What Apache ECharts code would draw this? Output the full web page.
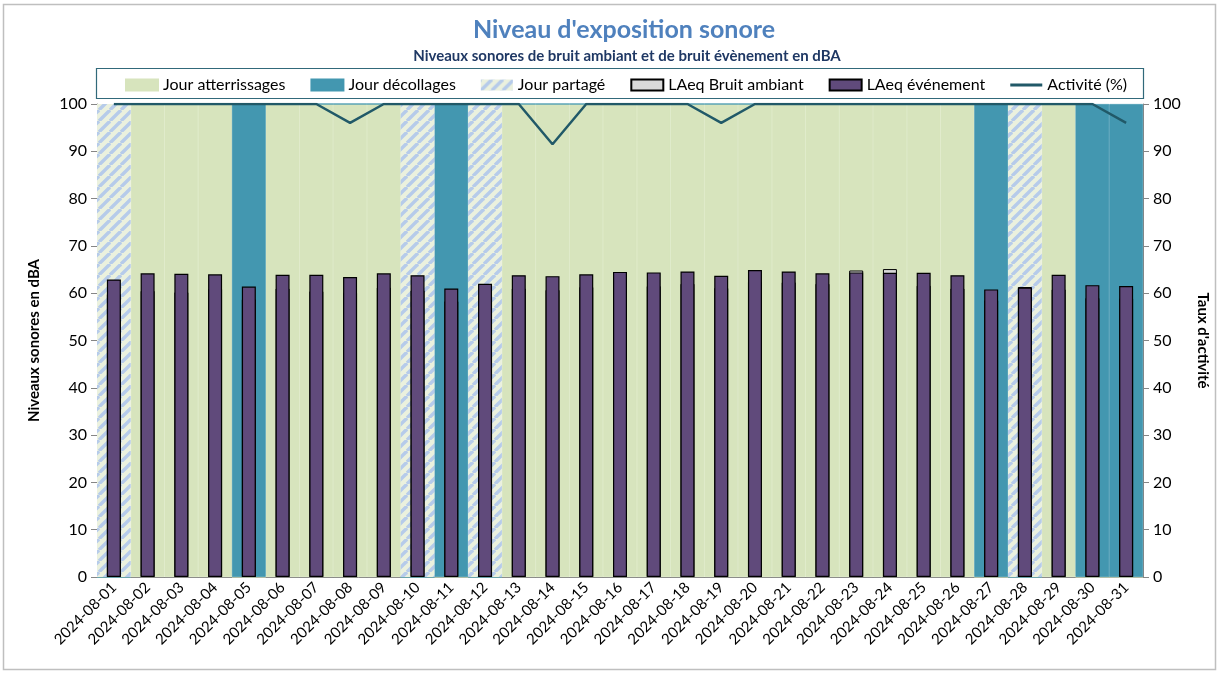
<!DOCTYPE html>
<html>
<head>
<meta charset="utf-8">
<title>Niveau d'exposition sonore</title>
<script src="https://cdn.jsdelivr.net/npm/echarts@6/dist/echarts.min.js"></script>
<style>
  html, body { margin: 0; padding: 0; background: #fff; }
  #chart { width: 1220px; height: 673px; }
</style>
</head>
<body>
<div id="chart"></div>
<script>
// jours du mois
const dates = [
  '2024-08-01', '2024-08-02', '2024-08-03', '2024-08-04', '2024-08-05', '2024-08-06',
  '2024-08-07', '2024-08-08', '2024-08-09', '2024-08-10', '2024-08-11', '2024-08-12',
  '2024-08-13', '2024-08-14', '2024-08-15', '2024-08-16', '2024-08-17', '2024-08-18',
  '2024-08-19', '2024-08-20', '2024-08-21', '2024-08-22', '2024-08-23', '2024-08-24',
  '2024-08-25', '2024-08-26', '2024-08-27', '2024-08-28', '2024-08-29', '2024-08-30',
  '2024-08-31'
]
// A = atterrissages, D = décollages, P = partagé
const dayType = [
  'P', 'A', 'A', 'A', 'D', 'A', 'A', 'A', 'A', 'P', 'D', 'P',
  'A', 'A', 'A', 'A', 'A', 'A', 'A', 'A', 'A', 'A', 'A', 'A', 'A', 'A',
  'D', 'P', 'A', 'D', 'D'
]
const eventLevels = [
  62.9, 64.2, 64.1, 64.0, 61.4, 63.9, 63.9, 63.4, 64.2, 63.8, 61.0, 62.0,
  63.8, 63.6, 64.0, 64.5, 64.4, 64.6, 63.7, 64.9, 64.6, 64.2, 64.4, 64.3,
  64.3, 63.8, 60.8, 61.2, 63.9, 61.7, 61.5
]
const ambientLevels = [
  59.8, 60.5, 60.2, 60.9, 58.7, 61.0, 60.4, 60.1, 61.2, 60.6, 58.3, 59.5,
  61.0, 60.7, 61.3, 61.8, 61.5, 62.0, 61.1, 62.4, 62.3, 62.0, 64.8, 65.1,
  61.6, 61.0, 58.5, 61.3, 60.8, 59.0, 58.9
]
const activity = [
  100, 100, 100, 100, 100, 100, 100, 96, 100, 100, 100, 100,
  100, 91.5, 100, 100, 100, 100, 96, 100, 100, 100, 100, 100,
  100, 100, 100, 100, 100, 100, 96
]

const FONT = 'Lato, "Liberation Sans", sans-serif'

// motif hachuré pour "Jour partagé"
function makeHatch() {
  const s = 11
  const c = document.createElement('canvas')
  c.width = s
  c.height = s
  const ctx = c.getContext('2d')
  ctx.fillStyle = '#ebf1de'
  ctx.fillRect(0, 0, s, s)
  ctx.strokeStyle = '#b6cbea'
  ctx.lineWidth = 3.4
  ;[0, s, 2 * s].forEach(k => {
    ctx.beginPath()
    ctx.moveTo(k - s, s)
    ctx.lineTo(k, 0)
    ctx.stroke()
  })
  return c
}
const hatch = { image: makeHatch(), repeat: 'repeat' }

const bgData = t => dayType.map(d => (d === t ? 100 : 0))

const chart = echarts.init(document.getElementById('chart'))
const option = {
  animation: false,
  textStyle: { fontFamily: FONT },
  title: [
    {
      text: "Niveau d'exposition sonore",
      left: 619, top: 12, textAlign: 'center',
      textStyle: { fontFamily: FONT, fontSize: 25, fontWeight: 'bold', color: '#4f81bd' }
    },
    {
      text: 'Niveaux sonores de bruit ambiant et de bruit évènement en dBA',
      left: 622, top: 44, textAlign: 'center',
      textStyle: { fontFamily: FONT, fontSize: 15, fontWeight: 'bold', color: '#1f3864' }
    }
  ],
  graphic: [
    {
      type: 'rect', z: -10, silent: true,
      shape: { x: 3.5, y: 4.5, width: 1212, height: 665 },
      style: { fill: 'none', stroke: '#bfbfbf', lineWidth: 1.5 }
    },
    {
      type: 'rect', z: 10, silent: true,
      shape: { x: 96.5, y: 68.5, width: 1047, height: 30 },
      style: { fill: '#fff', stroke: '#31697a', lineWidth: 1.2 }
    }
  ],
  legend: {
    left: 120, top: 72, z: 20,
    icon: 'rect',
    itemWidth: 32, itemHeight: 11, itemGap: 25,
    textStyle: { fontFamily: FONT, fontSize: 16, color: '#000' },
    data: ['Jour atterrissages', 'Jour décollages', 'Jour partagé',
      'LAeq Bruit ambiant', 'LAeq événement',
      { name: 'Activité (%)', icon: 'path://M0,0 M32,11 M0,4 L32,4 L32,7 L0,7 Z' }]
  },
  grid: { left: 97, right: 77, top: 104, bottom: 96 },
  xAxis: [
    {
      type: 'category', data: dates,
      axisLine: { lineStyle: { color: '#868686' } },
      axisTick: { length: 5, lineStyle: { color: '#868686' } },
      axisLabel: { rotate: 45, interval: 0, fontSize: 15, color: '#000', margin: 8 }
    },
    { type: 'category', data: dates, show: false }
  ],
  yAxis: [
    {
      type: 'value', min: 0, max: 100, interval: 10,
      name: 'Niveaux sonores en dBA', nameLocation: 'middle', nameGap: 55,
      nameTextStyle: { fontSize: 15, fontWeight: 'bold', color: '#000' },
      axisLine: { show: true, lineStyle: { color: '#868686' } },
      axisTick: { show: true, length: 6, lineStyle: { color: '#868686' } },
      axisLabel: { fontSize: 16, color: '#000', margin: 10 },
      splitLine: { show: false }
    },
    {
      type: 'value', min: 0, max: 100, interval: 10, position: 'right',
      name: "Taux d'activité", nameLocation: 'middle', nameGap: 52, nameRotate: -90,
      nameTextStyle: { fontSize: 15, fontWeight: 'bold', color: '#000' },
      axisLine: { show: true, lineStyle: { color: '#868686' } },
      axisTick: { show: true, length: 6, lineStyle: { color: '#868686' } },
      axisLabel: { fontSize: 16, color: '#000', margin: 10 },
      splitLine: { show: false }
    }
  ],
  series: [
    {
      name: 'Jour atterrissages', type: 'bar', xAxisIndex: 1, stack: 'bg',
      barWidth: '100%', silent: true, z: 1,
      itemStyle: { color: '#d7e4bd', borderColor: '#d7e4bd', borderWidth: 0.8 },
      data: bgData('A')
    },
    {
      name: 'Jour décollages', type: 'bar', xAxisIndex: 1, stack: 'bg',
      barWidth: '100%', silent: true, z: 1,
      itemStyle: { color: '#4397b0', borderColor: '#4397b0', borderWidth: 0.8 },
      data: bgData('D')
    },
    {
      name: 'Jour partagé', type: 'bar', xAxisIndex: 1, stack: 'bg',
      barWidth: '100%', silent: true, z: 1,
      itemStyle: { color: hatch }, data: bgData('P')
    },
    {
      name: 'LAeq Bruit ambiant', type: 'bar', barWidth: 14, barGap: '-100%', z: 3,
      itemStyle: { color: '#d9d9d9', borderColor: '#000', borderWidth: 1 },
      data: ambientLevels
    },
    {
      name: 'LAeq événement', type: 'bar', barWidth: 14, barGap: '-100%', z: 3,
      itemStyle: { color: '#604a7b', borderColor: '#000', borderWidth: 1.2 },
      data: eventLevels
    },
    {
      name: 'Activité (%)', type: 'line', yAxisIndex: 1, z: 5,
      symbol: 'none',
      lineStyle: { color: '#215968', width: 2.5 },
      itemStyle: { color: '#215968' },
      data: activity
    }
  ]
}
chart.setOption(option)
</script>
</body>
</html>
